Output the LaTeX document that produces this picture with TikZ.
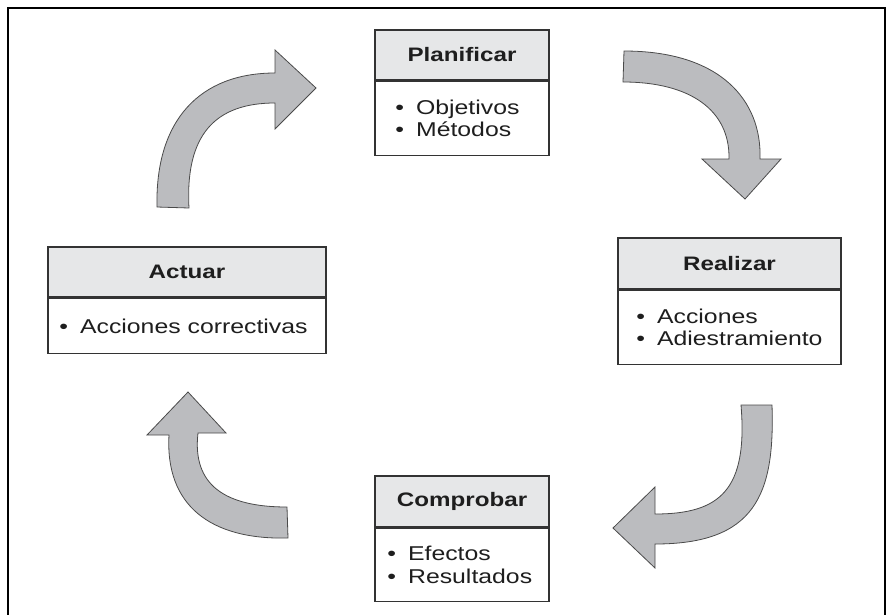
\documentclass[tikz,border=0pt]{standalone}
\usepackage{fontspec}
\newfontfamily\wide[FakeStretch=1.24]{Liberation Sans}
\definecolor{arrowfill}{HTML}{BBBCBF}
\definecolor{arrowline}{HTML}{4A4A4A}
\definecolor{hdrfill}{HTML}{E6E7E8}
\definecolor{boxline}{HTML}{333333}
\definecolor{txt}{HTML}{1E1E1E}
\tikzset{
  hdr/.style={draw=boxline, line width=1.5pt, fill=hdrfill, text=txt,
    font=\wide\bfseries\fontsize{19.5}{22}\selectfont, inner sep=0pt},
  bdy/.style={draw=boxline, line width=1.5pt, fill=white, inner sep=0pt},
  bodytxt/.style={anchor=west, inner sep=0pt, text=txt, align=left,
    font=\wide\fontsize{20}{22.5}\selectfont},
  blockarrow/.style={fill=arrowfill, draw=arrowline, line width=0.8pt, line join=miter}
}
\newcommand{\bul}{\textbullet\hspace{12pt}}
\begin{document}
\begin{tikzpicture}[x=1pt,y=-1pt]
\useasboundingbox (0,0) rectangle (893,614);
% frame
\draw[line width=2pt] (8,620) -- (8,8) -- (885,8) -- (885,620);

% Planificar
\node[hdr, minimum width=174pt, minimum height=50pt] (ph) at (462,55) {Planificar};
\node[bdy, minimum width=174pt, minimum height=74pt, anchor=north] (pb) at (ph.south) {};
\node[bodytxt] (pt) at ([xshift=21pt,yshift=0pt]pb.west) {\bul Objetivos\\\bul Métodos};

% Realizar
\node[hdr, minimum width=223pt, minimum height=51pt] (rh) at (729.5,263.5) {Realizar};
\node[bdy, minimum width=223pt, minimum height=74pt, anchor=north] (rb) at (rh.south) {};
\node[bodytxt] (rt) at ([xshift=19pt]rb.west) {\bul Acciones\\\bul Adiestramiento};

% Actuar
\node[hdr, minimum width=278pt, minimum height=50pt] (ah) at (187,272) {Actuar};
\node[bdy, minimum width=278pt, minimum height=55pt, anchor=north] (ab) at (ah.south) {};
\node[bodytxt] (at) at ([xshift=12pt]ab.west) {\bul Acciones correctivas};

% Comprobar
\node[hdr, minimum width=174pt, minimum height=51pt] (ch) at (462,501.5) {Comprobar};
\node[bdy, minimum width=174pt, minimum height=73pt, anchor=north] (cb) at (ch.south) {};
\node[bodytxt] (ct) at ([xshift=13pt]cb.west) {\bul Efectos\\\bul Resultados};

% block arrows
% Actuar -> Planificar
\draw[blockarrow] (157,207) .. controls (155,120) and (200,73) .. (275,73)
  -- (275,50) -- (316,88) -- (275,129) -- (275,103)
  .. controls (215,103) and (185,135) .. (189,208) -- cycle;
% Planificar -> Realizar
\draw[blockarrow] (624,51) .. controls (720,51) and (762,100) .. (760,159)
  -- (781,159) -- (745,199) -- (702,159) -- (729,159)
  .. controls (730,110) and (690,82) .. (623,82) -- cycle;
% Realizar -> Comprobar
\draw[blockarrow] (741,405) .. controls (748,490) and (720,514) .. (655,514)
  -- (655,487) -- (613,528) -- (655,568) -- (655,544)
  .. controls (755,544) and (775,495) .. (772,405) -- cycle;
% Comprobar -> Actuar
\draw[blockarrow] (288,538) .. controls (210,540) and (165,505) .. (169,435)
  -- (147,435) -- (188,392) -- (226,433) -- (198,433)
  .. controls (192,485) and (225,507) .. (287,507) -- cycle;
\end{tikzpicture}
\end{document}
